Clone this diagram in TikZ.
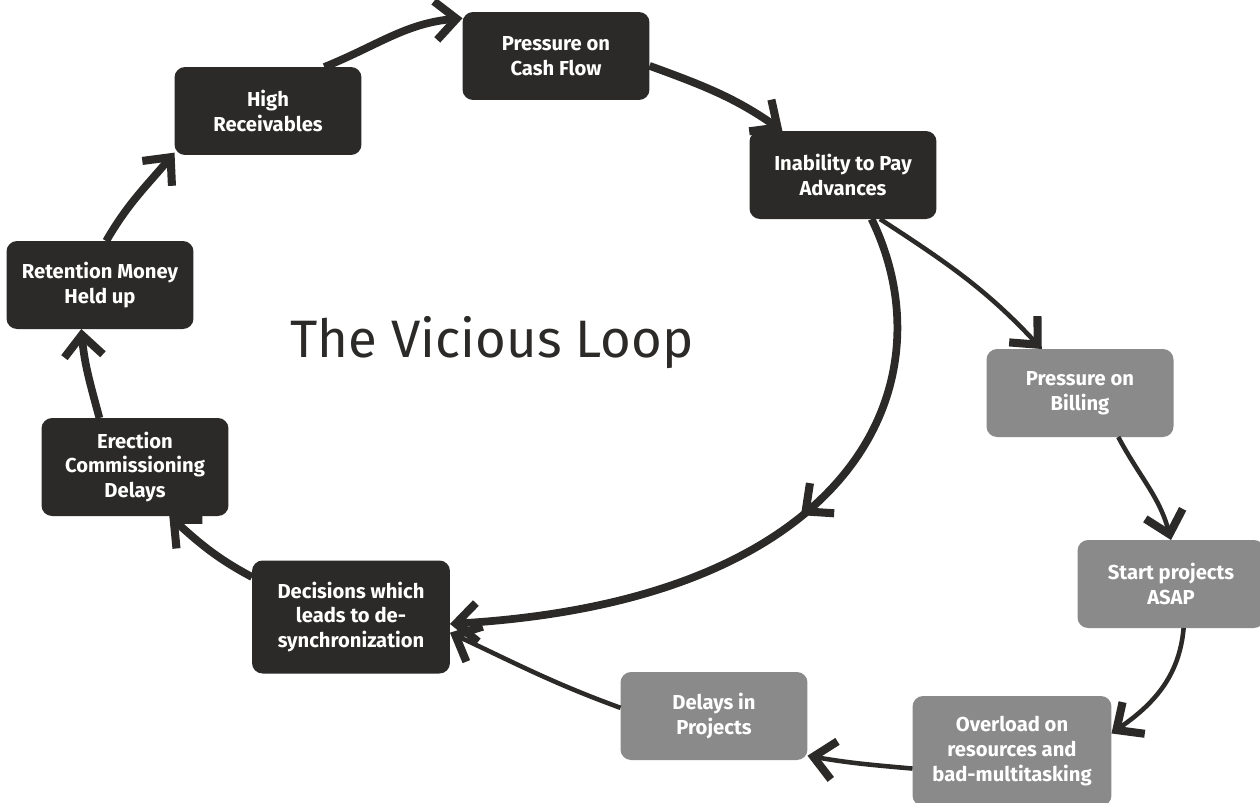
\documentclass[tikz,border=0pt]{standalone}
\usepackage{fontspec}
\setmainfont{Fira Sans}
\usetikzlibrary{arrows.meta, decorations.markings}

\definecolor{loopdark}{HTML}{2B2A28}
\definecolor{loopgrey}{HTML}{8A8A8A}

\begin{document}
\begin{tikzpicture}[
    x=0.02cm, y=0.02cm,
    >={Straight Barb[length=12pt, width=22pt, line width=4.6pt]},
    cause/.style={
        rectangle, rounded corners=6pt, outer sep=0pt,
        text=white, align=center, minimum width=3.74cm, minimum height=1.76cm,
        font=\fontsize{11.5}{14.2}\selectfont\bfseries
    },
    dark/.style={cause, fill=loopdark},
    grey/.style={cause, fill=loopgrey},
    big/.style={->, line width=4.4pt, draw=loopdark},
    thin/.style={->, line width=2.6pt, draw=loopdark},
    midarrow/.style={postaction={decorate, decoration={markings,
        mark=at position #1 with {\arrow{>}}}}},
]
\useasboundingbox (0,0) rectangle (1260,-802);

%% Loop nodes (dark)
\node[dark] (pcf) at (556,-56) {Pressure on\\Cash Flow};
\node[dark] (inab) at (843,-175) {Inability to Pay\\Advances};
\node[dark, minimum width=3.96cm, minimum height=2.26cm] (dec) at (351,-617)
    {Decisions which\\leads to de-\\synchronization};
\node[dark, minimum height=1.96cm] (erec) at (135,-467) {Erection\\Commissioning\\Delays};
\node[dark] (ret) at (100,-285) {Retention Money\\Held up};
\node[dark] (hr) at (268,-111) {High\\Receivables};

%% Side chain (grey)
\node[grey] (bill) at (1080,-393) {Pressure on\\Billing};
\node[grey] (start) at (1171,-584) {Start projects\\ASAP};
\node[grey, minimum width=3.98cm, minimum height=2.2cm] (over) at (1012,-751)
    {Overload on\\resources and\\bad-multitasking};
\node[grey] (delays) at (714,-716) {Delays in\\Projects};

%% Title
\node[font=\fontsize{30}{36}\selectfont, text=loopdark] (title) at (492,-343) {The Vicious Loop};

%% The vicious loop
\draw[big] (hr.38) to[out=22, in=185] (pcf.158);
\draw[big] (pcf.-6) to[out=-20, in=145] (inab.144);
\draw[big, midarrow=0.47] (inab.-57) .. controls (950,-380) and (860,-600) .. (dec.-4);
\draw[big] (dec.158) to[out=152, in=-42] (erec.-55);
\draw[big] (erec.126) to[out=105, in=-85] (ret.-113);
\draw[big] (ret.82) to[out=60, in=-130] (hr.-156);

%% Side chain arrows
\draw[thin] (inab.-50) to[out=-33, in=133] (bill.131);
\draw[thin] (bill.-49) to[out=-62, in=105] (start.north);
\draw[thin] (start.-74) to[out=-95, in=35] (over.10);
\draw[thin] (over.190) to[out=175, in=-10] (delays.-23);
\draw[thin] (delays.175) to[out=160, in=-25] (dec.-9);

\end{tikzpicture}
\end{document}
